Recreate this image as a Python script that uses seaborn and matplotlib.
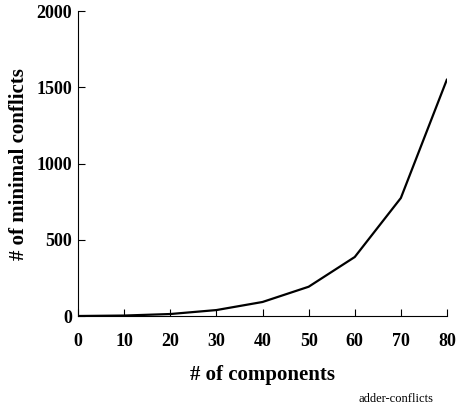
import matplotlib
matplotlib.use('Agg')
import matplotlib.pyplot as plt
import pandas as pd
import seaborn as sns

components = [0, 10, 20, 30, 40, 50, 60, 70, 80]
conflicts = [0, 3, 13, 39, 92, 192, 387, 774, 1552]

df = pd.DataFrame({'components': components, 'conflicts': conflicts})

sns.set_style('ticks')
plt.rcParams['font.family'] = ['Liberation Serif', 'DejaVu Serif']
plt.rcParams['text.color'] = 'black'
plt.rcParams['axes.labelcolor'] = 'black'

fig = plt.figure(figsize=(4.57, 4.12), dpi=100)
ax = fig.add_axes([0.171, 0.233, 0.807, 0.74])
sns.lineplot(x='components', y='conflicts', data=df, color='black', linewidth=1.6, ax=ax)

ax.set_xlim(0, 80)
ax.set_ylim(0, 2000)
ax.set_xticks(range(0, 81, 10))
ax.set_yticks([0, 500, 1000, 1500, 2000])
ax.tick_params(direction='in', length=5, width=0.8, labelsize=13, colors='black')
ax.tick_params(axis='x', pad=12)
ax.tick_params(axis='y', pad=4.5)
for lbl in ax.get_xticklabels() + ax.get_yticklabels():
    lbl.set_fontweight('bold')
ax.set_xlabel('# of components', fontsize=15, fontweight='bold', labelpad=11)
ax.set_ylabel('# of minimal conflicts', fontsize=15, fontweight='bold', labelpad=5)
sns.despine(ax=ax)
for s in ['left', 'bottom']:
    ax.spines[s].set_linewidth(0.8)
    ax.spines[s].set_color('black')

fig.text(0.785, 0.025, 'adder-conflicts', fontsize=9, ha='left')
fig.savefig('out.png', dpi=100)
